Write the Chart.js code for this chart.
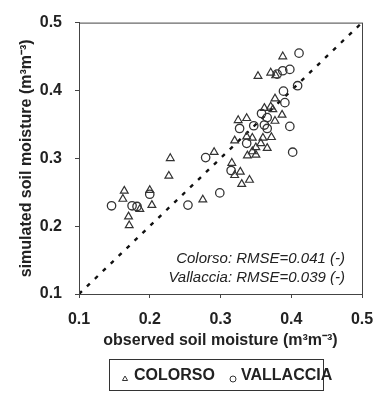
<!DOCTYPE html>
<html>
<head>
<meta charset="utf-8">
<script src="https://cdn.jsdelivr.net/npm/chart.js@4"></script>
<style>
  html, body { margin: 0; padding: 0; background: #fff; }
  #wrap { width: 374px; height: 396px; }
</style>
</head>
<body>
<div id="wrap"><canvas id="myChart" width="374" height="396"></canvas></div>
<script>
// observed vs simulated soil moisture
const colorso = [
  [0.388,0.450],[0.353,0.421],[0.371,0.426],[0.378,0.422],[0.377,0.388],
  [0.362,0.374],[0.371,0.376],[0.374,0.372],[0.387,0.364],[0.325,0.356],
  [0.337,0.359],[0.377,0.355],[0.320,0.326],[0.337,0.332],[0.372,0.331],
  [0.357,0.322],[0.366,0.315],[0.350,0.316],[0.345,0.310],[0.338,0.304],
  [0.350,0.305],[0.291,0.309],[0.229,0.300],[0.227,0.274],[0.316,0.293],
  [0.328,0.280],[0.320,0.275],[0.341,0.268],[0.330,0.262],[0.275,0.239],
  [0.164,0.252],[0.162,0.240],[0.200,0.253],[0.203,0.231],[0.186,0.225],
  [0.170,0.214],[0.171,0.201],[0.345,0.330],[0.360,0.330]
];
const vallaccia = [
  [0.411,0.455],[0.398,0.431],[0.388,0.429],[0.380,0.424],[0.409,0.407],
  [0.389,0.399],[0.391,0.382],[0.358,0.366],[0.366,0.360],[0.362,0.349],
  [0.366,0.344],[0.347,0.348],[0.327,0.344],[0.398,0.347],[0.337,0.322],
  [0.402,0.309],[0.279,0.301],[0.315,0.282],[0.299,0.249],[0.254,0.231],
  [0.200,0.247],[0.146,0.230],[0.175,0.230],[0.182,0.229]
];
const oneToOne = [[0.1,0.1],[0.5,0.5]];
const seriesNames = ['COLORSO', 'VALLACCIA'];
const rmseLines = ['Colorso: RMSE=0.041 (-)', 'Vallaccia: RMSE=0.039 (-)'];
const axisMin = 0.1, axisMax = 0.5, axisStep = 0.1;

const toXY = arr => arr.map(p => ({x: p[0], y: p[1]}));
const ink = '#222';

// frame, rmse text and boxed legend
const extras = {
  id: 'extras',
  afterDraw(chart) {
    const ctx = chart.ctx, a = chart.chartArea;
    ctx.save();
    ctx.strokeStyle = '#444';
    ctx.lineWidth = 1;
    ctx.strokeRect(a.left + 0.5, a.top + 0.5, a.right - a.left, a.bottom - a.top);

    ctx.fillStyle = ink;
    ctx.font = 'italic 15px "Liberation Sans", Arial, sans-serif';
    ctx.textAlign = 'right';
    ctx.textBaseline = 'middle';
    ctx.fillText(rmseLines[0], 345, 259);
    ctx.fillText(rmseLines[1], 345, 278);

    // legend box
    ctx.strokeStyle = '#333';
    ctx.strokeRect(109.5, 359.5, 214, 31);
    ctx.font = 'bold 16px "Liberation Sans", Arial, sans-serif';
    ctx.textAlign = 'left';
    const items = [
      {style: 'triangle', px: 125, tx: 134, text: seriesNames[0]},
      {style: 'circle', px: 233, tx: 241, text: seriesNames[1]}
    ];
    items.forEach(it => {
      ctx.strokeStyle = '#333';
      ctx.fillStyle = 'rgba(0,0,0,0)';
      ctx.lineWidth = 1;
      Chart.helpers.drawPoint(ctx, {pointStyle: it.style, radius: 3, borderWidth: 1}, it.px, 379);
      ctx.fillStyle = ink;
      ctx.fillText(it.text, it.tx, 376);
    });
    ctx.restore();
  }
};

const ctx = document.getElementById('myChart');

new Chart(ctx, {
  type: 'scatter',
  data: {
    datasets: [
      {
        label: seriesNames[0],
        data: toXY(colorso),
        pointStyle: 'triangle',
        pointRadius: 4.5,
        borderColor: '#333',
        backgroundColor: 'rgba(0,0,0,0)',
        borderWidth: 1.2
      },
      {
        label: seriesNames[1],
        data: toXY(vallaccia),
        pointStyle: 'circle',
        pointRadius: 4.2,
        borderColor: '#333',
        backgroundColor: 'rgba(0,0,0,0)',
        borderWidth: 1.3
      },
      {
        type: 'line',
        label: '1:1',
        data: toXY(oneToOne),
        borderColor: '#111',
        borderWidth: 2.4,
        borderDash: [4, 7],
        pointRadius: 0,
        fill: false
      }
    ]
  },
  options: {
    responsive: false,
    animation: false,
    layout: { padding: { top: 19, right: 0, left: 0, bottom: 0 } },
    plugins: { legend: { display: false }, tooltip: { enabled: false } },
    scales: {
      x: {
        type: 'linear',
        min: axisMin, max: axisMax,
        afterFit: s => { s.height = 102; s.paddingRight = 12; s.paddingLeft = 0; },
        border: { display: true, color: '#444' },
        grid: { drawOnChartArea: false, tickLength: 4, color: '#444' },
        ticks: {
          stepSize: axisStep, padding: 12, color: ink,
          font: { family: '"Liberation Sans", Arial, sans-serif', size: 16, weight: 'bold' },
          callback: v => v.toFixed(1)
        },
        title: {
          display: true,
          text: 'observed soil moisture (m³m⁻³)',
          color: ink,
          padding: { top: 0, bottom: 46 },
          font: { family: '"Liberation Sans", Arial, sans-serif', size: 16, weight: 'bold' }
        }
      },
      y: {
        type: 'linear',
        min: axisMin, max: axisMax,
        afterFit: s => { s.width = 79; },
        border: { display: true, color: '#444' },
        grid: { drawOnChartArea: false, tickLength: 4, color: '#444' },
        ticks: {
          stepSize: axisStep, padding: 13, color: ink,
          font: { family: '"Liberation Sans", Arial, sans-serif', size: 16, weight: 'bold' },
          callback: v => v.toFixed(1)
        },
        title: {
          display: true,
          text: 'simulated soil moisture (m³m⁻³)',
          color: ink,
          padding: { top: 17, bottom: 0 },
          font: { family: '"Liberation Sans", Arial, sans-serif', size: 16, weight: 'bold' }
        }
      }
    }
  },
  plugins: [extras]
});
</script>
</body>
</html>
